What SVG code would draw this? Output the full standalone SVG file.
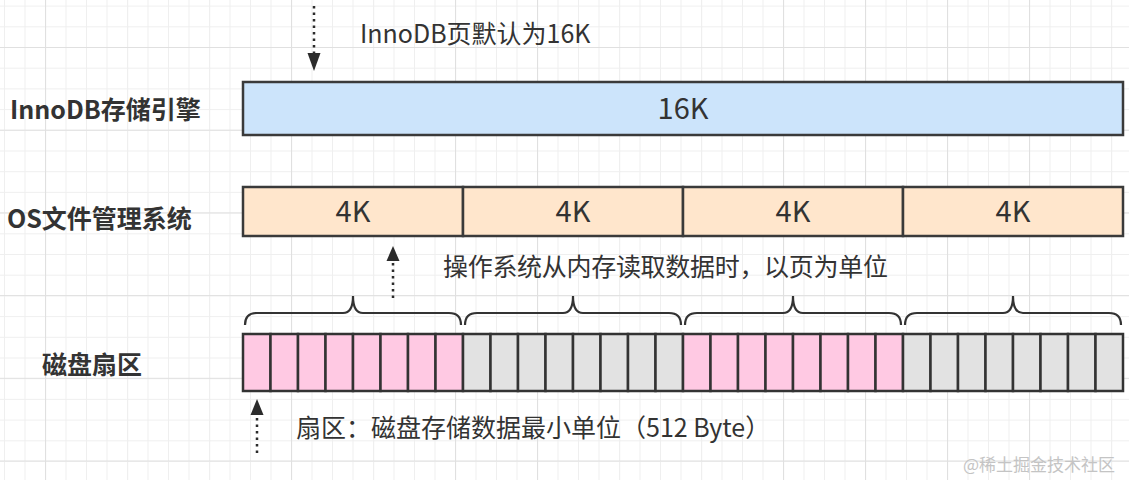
<svg xmlns="http://www.w3.org/2000/svg" width="1129" height="480" viewBox="0 0 1129 480">
<defs>
<pattern id="minor" x="45" y="47" width="20.5" height="20.7" patternUnits="userSpaceOnUse">
<path d="M0.5,0 V20.7 M0,0.5 H20.5" fill="none" stroke="#efefef" stroke-width="1"/>
</pattern>
<pattern id="major" x="45" y="47" width="82" height="82.7" patternUnits="userSpaceOnUse">
<path d="M0.5,0 V82.7 M0,0.5 H82" fill="none" stroke="#e0e0e0" stroke-width="1.2"/>
</pattern>
<style>
.lbl{font-family:"Noto Sans CJK SC","Noto Sans",sans-serif;font-weight:bold;font-size:25px;fill:#333}
.txt{font-family:"Noto Sans CJK SC","Noto Sans",sans-serif;font-size:25px;fill:#333}
.big{font-family:"Noto Sans CJK SC","Noto Sans",sans-serif;font-size:29px;fill:#333;text-anchor:middle}
.box{stroke:#3a3a3a;stroke-width:2.5}
.sec{stroke:#333;stroke-width:2.5}
.pink{fill:#ffc9e3}
.gray{fill:#e2e2e2}
.brace{fill:none;stroke:#333;stroke-width:2.2}
.dot{fill:none;stroke:#2b2b2b;stroke-width:2.5;stroke-dasharray:2.5 4}
.head{fill:#2b2b2b}
</style>
</defs>
<rect width="1129" height="480" fill="#ffffff"/>
<rect width="1129" height="480" fill="url(#minor)"/>
<rect width="1129" height="480" fill="url(#major)"/>

<g id="label-innodb"><text class="lbl" x="10" y="119">InnoDB存储引擎</text></g>
<g id="label-os"><text class="lbl" x="7" y="228">OS文件管理系统</text></g>
<g id="label-disk"><text class="lbl" x="42" y="374">磁盘扇区</text></g>

<g id="innodb-page">
<rect class="box" x="243" y="82" width="880" height="53" fill="#cce4fb"/>
<text class="big" x="683" y="119">16K</text>
</g>

<g id="os-pages">
<rect class="box" x="243" y="187" width="220" height="49" fill="#ffe6cc"/>
<rect class="box" x="463" y="187" width="220" height="49" fill="#ffe6cc"/>
<rect class="box" x="683" y="187" width="220" height="49" fill="#ffe6cc"/>
<rect class="box" x="903" y="187" width="220" height="49" fill="#ffe6cc"/>
<text class="big" x="353" y="222">4K</text>
<text class="big" x="573" y="222">4K</text>
<text class="big" x="793" y="222">4K</text>
<text class="big" x="1013" y="222">4K</text>
</g>

<g id="sectors">
<g class="pink">
<rect class="sec" x="243" y="334" width="27.5" height="57"/><rect class="sec" x="270.5" y="334" width="27.5" height="57"/><rect class="sec" x="298" y="334" width="27.5" height="57"/><rect class="sec" x="325.5" y="334" width="27.5" height="57"/><rect class="sec" x="353" y="334" width="27.5" height="57"/><rect class="sec" x="380.5" y="334" width="27.5" height="57"/><rect class="sec" x="408" y="334" width="27.5" height="57"/><rect class="sec" x="435.5" y="334" width="27.5" height="57"/>
</g>
<g class="gray">
<rect class="sec" x="463" y="334" width="27.5" height="57"/><rect class="sec" x="490.5" y="334" width="27.5" height="57"/><rect class="sec" x="518" y="334" width="27.5" height="57"/><rect class="sec" x="545.5" y="334" width="27.5" height="57"/><rect class="sec" x="573" y="334" width="27.5" height="57"/><rect class="sec" x="600.5" y="334" width="27.5" height="57"/><rect class="sec" x="628" y="334" width="27.5" height="57"/><rect class="sec" x="655.5" y="334" width="27.5" height="57"/>
</g>
<g class="pink">
<rect class="sec" x="683" y="334" width="27.5" height="57"/><rect class="sec" x="710.5" y="334" width="27.5" height="57"/><rect class="sec" x="738" y="334" width="27.5" height="57"/><rect class="sec" x="765.5" y="334" width="27.5" height="57"/><rect class="sec" x="793" y="334" width="27.5" height="57"/><rect class="sec" x="820.5" y="334" width="27.5" height="57"/><rect class="sec" x="848" y="334" width="27.5" height="57"/><rect class="sec" x="875.5" y="334" width="27.5" height="57"/>
</g>
<g class="gray">
<rect class="sec" x="903" y="334" width="27.5" height="57"/><rect class="sec" x="930.5" y="334" width="27.5" height="57"/><rect class="sec" x="958" y="334" width="27.5" height="57"/><rect class="sec" x="985.5" y="334" width="27.5" height="57"/><rect class="sec" x="1013" y="334" width="27.5" height="57"/><rect class="sec" x="1040.5" y="334" width="27.5" height="57"/><rect class="sec" x="1068" y="334" width="27.5" height="57"/><rect class="sec" x="1095.5" y="334" width="27.5" height="57"/>
</g>
</g>

<g id="braces">
<path class="brace" d="M245,325 Q245,313 257,313 L343,313 Q353,313 353,296 Q353,313 363,313 L449,313 Q461,313 461,325"/>
<path class="brace" d="M465,325 Q465,313 477,313 L563,313 Q573,313 573,296 Q573,313 583,313 L669,313 Q681,313 681,325"/>
<path class="brace" d="M685,325 Q685,313 697,313 L783,313 Q793,313 793,296 Q793,313 803,313 L889,313 Q901,313 901,325"/>
<path class="brace" d="M905,325 Q905,313 917,313 L1003,313 Q1013,313 1013,296 Q1013,313 1023,313 L1109,313 Q1121,313 1121,325"/>
</g>

<g id="notes">
<text class="txt" x="360" y="43">InnoDB页默认为16K</text>
<text class="txt" x="443" y="276" letter-spacing="-0.3">操作系统从内存读取数据时，以页为单位</text>
<text class="txt" x="296" y="437">扇区：磁盘存储数据最小单位（512 Byte）</text>
</g>

<g id="connectors">
<line class="dot" x1="314" y1="6" x2="314" y2="54"/>
<polygon class="head" points="307.5,53 320.5,53 314,71"/>
<line class="dot" x1="393" y1="298" x2="393" y2="262"/>
<polygon class="head" points="386.5,261 399.5,261 393,246"/>
<line class="dot" x1="257" y1="453" x2="257" y2="416"/>
<polygon class="head" points="250.5,415 263.5,415 257,399"/>
</g>

<g id="watermark"><text x="963" y="471" font-family="Noto Sans CJK SC, sans-serif" font-size="17" fill="#c4c4c4">@稀土掘金技术社区</text></g>
</svg>
